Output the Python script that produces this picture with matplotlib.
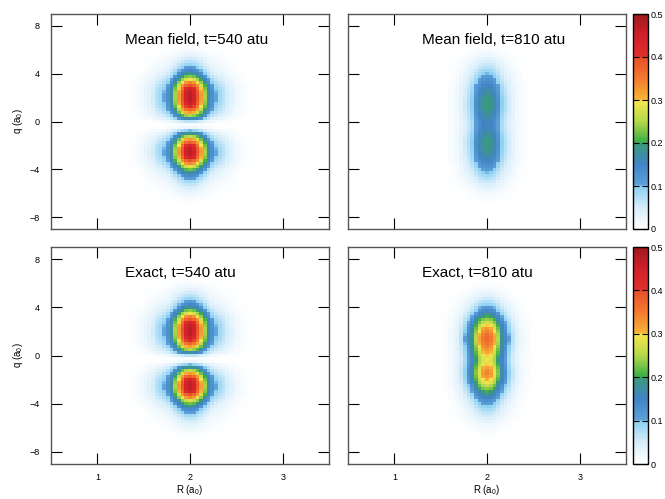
import matplotlib
matplotlib.use("Agg")
import matplotlib.pyplot as plt
import numpy as np
from matplotlib.colors import LinearSegmentedColormap

plt.rcParams['font.family'] = ['Liberation Sans', 'DejaVu Sans']
plt.rcParams['mathtext.fontset'] = 'custom'
plt.rcParams['mathtext.rm'] = 'Liberation Sans'
plt.rcParams['mathtext.it'] = 'Liberation Sans'
plt.rcParams['mathtext.default'] = 'regular'

# sampling grid (R from 1.32 to 2.68, q from -8 to 8)
R_vals = np.arange(1.32, 2.6801, 0.04)
q_vals = np.arange(-8.0, 8.001, 0.25)

# relative density across R at the blob centre
R_prof_540 = [0.0, 0.008, 0.015, 0.025, 0.04, 0.06, 0.08, 0.11, 0.15, 0.18, 0.22, 0.28, 0.38,
              0.52, 0.69, 0.84, 0.95, 1.00, 0.95, 0.84, 0.69, 0.52, 0.38, 0.28, 0.22, 0.18,
              0.15, 0.11, 0.08, 0.06, 0.04, 0.025, 0.015, 0.008, 0.0]
R_prof_810 = [0.0, 0.0, 0.0, 0.0, 0.005, 0.012, 0.025, 0.045, 0.065, 0.11, 0.18, 0.28, 0.38,
              0.50, 0.68, 0.85, 0.96, 1.00, 0.96, 0.85, 0.68, 0.50, 0.38, 0.28, 0.18, 0.11,
              0.065, 0.045, 0.025, 0.012, 0.005, 0.0, 0.0, 0.0, 0.0]

# density along q at R=2
q_540 = [0.0, 0.0, 0.0, 0.0, 0.002, 0.005, 0.01, 0.017, 0.026, 0.037, 0.05, 0.066, 0.085,
         0.11, 0.14, 0.18, 0.225, 0.28, 0.34, 0.395, 0.44, 0.465, 0.47, 0.46, 0.43, 0.385,
         0.325, 0.26, 0.19, 0.10, 0.025, 0.012,
         0.07,
         0.17, 0.25, 0.32, 0.375, 0.42, 0.45, 0.465, 0.47, 0.47, 0.46, 0.435, 0.395, 0.345,
         0.29, 0.235, 0.185, 0.145, 0.115, 0.09, 0.07, 0.052, 0.036, 0.023, 0.013, 0.006,
         0.002, 0.0, 0.0, 0.0, 0.0, 0.0, 0.0]
q_810_mf = [0.0, 0.0, 0.0, 0.001, 0.002, 0.004, 0.007, 0.012, 0.018, 0.026, 0.036, 0.047, 0.06,
            0.073, 0.087, 0.10, 0.113, 0.127, 0.14, 0.153, 0.165, 0.175, 0.183, 0.188, 0.19,
            0.192, 0.19, 0.183, 0.173, 0.163, 0.157, 0.155,
            0.158,
            0.165, 0.174, 0.183, 0.19, 0.194, 0.195, 0.193, 0.188, 0.18, 0.17, 0.165, 0.153,
            0.14, 0.127, 0.113, 0.10, 0.087, 0.073, 0.06, 0.047, 0.035, 0.025, 0.017, 0.01,
            0.005, 0.002, 0.0, 0.0, 0.0, 0.0, 0.0, 0.0]
q_810_ex = [0.0, 0.0, 0.0, 0.0, 0.002, 0.004, 0.007, 0.011, 0.016, 0.023, 0.032, 0.043, 0.055,
            0.068, 0.082, 0.097, 0.113, 0.132, 0.155, 0.18, 0.205, 0.235, 0.26, 0.29, 0.31,
            0.33, 0.34, 0.335, 0.32, 0.30, 0.29, 0.29,
            0.30,
            0.315, 0.33, 0.345, 0.36, 0.37, 0.37, 0.36, 0.345, 0.325, 0.30, 0.27, 0.24,
            0.205, 0.172, 0.143, 0.118, 0.095, 0.075, 0.055, 0.04, 0.027, 0.017, 0.01, 0.005,
            0.002, 0.0, 0.0, 0.0, 0.0, 0.0, 0.0, 0.0]

titles = ["Mean field, t=540 atu", "Mean field, t=810 atu", "Exact, t=540 atu", "Exact, t=810 atu"]
q_profiles = [q_540, q_810_mf, q_540, q_810_ex]
R_profiles = [R_prof_540, R_prof_810, R_prof_540, R_prof_810]

cb_ticks = [0, 0.1, 0.2, 0.3, 0.4, 0.5]

pal = LinearSegmentedColormap.from_list("pal", [
    (0.00, "#ffffff"), (0.10, "#d6edfa"), (0.195, "#8dd0f2"), (0.205, "#5c9fd8"),
    (0.30, "#4184c6"), (0.395, "#3a9a7a"), (0.405, "#3cb043"), (0.50, "#b4d74c"),
    (0.595, "#f6e64c"), (0.605, "#f8b437"), (0.70, "#f27a30"), (0.795, "#e9522a"),
    (0.805, "#e03028"), (0.90, "#d0202a"), (1.00, "#9e1a1e")])

fig = plt.figure(figsize=(6.65, 4.99), dpi=100)
W, H = 665.0, 499.0
boxes = [(51, 14, 278, 215), (348, 14, 278, 215), (51, 247, 278, 217), (348, 247, 278, 217)]
cboxes = [(633, 14, 15, 215), (633, 247, 15, 217)]

for i in range(4):
    x0, y0, w, h = boxes[i]
    ax = fig.add_axes([x0 / W, 1 - (y0 + h) / H, w / W, h / H])
    Z = np.outer(np.array(q_profiles[i]), np.array(R_profiles[i]))
    m = ax.pcolormesh(R_vals, q_vals, Z, cmap=pal, vmin=0, vmax=0.5, shading='nearest')
    ax.set_xlim(0.5, 3.5)
    ax.set_ylim(-9, 9)
    ax.set_xticks([1, 2, 3])
    ax.set_yticks([-8, -4, 0, 4, 8])
    ax.tick_params(direction='in', length=8, width=0.8, top=True, right=True, labelsize=6.5)
    ax.tick_params(axis='x', pad=6.5)
    ax.tick_params(axis='y', pad=8)
    for s in ax.spines.values():
        s.set_color('#555555')
        s.set_linewidth(1.0)
    ax.text(0.266, 0.88, titles[i], transform=ax.transAxes, fontsize=11,
            ha='left', va='center')
    if i < 2:
        ax.tick_params(labelbottom=False)
    else:
        ax.set_xlabel('R (a$_0$)', fontsize=7, labelpad=1)
    if i % 2 == 1:
        ax.tick_params(labelleft=False)
    else:
        ax.set_ylabel('q (a$_0$)', fontsize=7, labelpad=3)

for (x0, y0, w, h) in cboxes:
    cax = fig.add_axes([x0 / W, 1 - (y0 + h) / H, w / W, h / H])
    cb = fig.colorbar(m, cax=cax)
    cb.set_ticks(cb_ticks)
    cb.set_ticklabels(['0', '0.1', '0.2', '0.3', '0.4', '0.5'])
    cb.outline.set_linewidth(1.0)
    cax.tick_params(direction='in', length=4, width=0.8, left=True, right=True,
                    labelsize=6.5, pad=2)

fig.savefig("out.png", dpi=100)
